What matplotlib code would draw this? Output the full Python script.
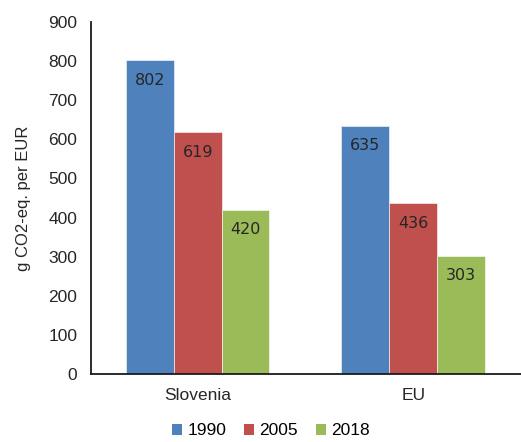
import numpy as np
import matplotlib.pyplot as plt
from matplotlib.patches import Patch

categories = ['Slovenia', 'EU']
years = ['1990', '2005', '2018']
values_1990 = [802, 635]
values_2005 = [619, 436]
values_2018 = [420, 303]
yticks = [0, 100, 200, 300, 400, 500, 600, 700, 800, 900]

colors = ['#4F81BD', '#C0504D', '#9BBB59']
series = [values_1990, values_2005, values_2018]

plt.rcParams['font.family'] = ['Liberation Sans', 'DejaVu Sans']

fig = plt.figure(figsize=(5.21, 4.42), dpi=100)
ax = fig.add_axes([0.1747, 0.1538, 0.8253, 0.7964])

x = np.arange(len(categories))
w = 0.222
for i, (vals, c) in enumerate(zip(series, colors)):
    pos = x + (i - 1) * w
    ax.bar(pos, vals, width=w, color=c, edgecolor='white', linewidth=0.4)
    for p, v in zip(pos, vals):
        ax.annotate(str(v), (p, v), xytext=(0, -14.5), textcoords='offset points',
                    ha='center', va='center', fontsize=11.5, color='#262626',
                    family='DejaVu Sans')

ax.set_xlim(-0.495, 1.5)
ax.set_ylim(0, 900)
ax.set_yticks(yticks)
ax.set_xticks(x)
ax.set_xticklabels(categories, fontsize=12.5, color='#262626')
ax.tick_params(axis='y', length=0, labelsize=12.5, labelcolor='#262626', pad=10)
ax.tick_params(axis='x', length=0, pad=10)
ax.set_ylabel('g CO2-eq. per EUR', fontsize=12, color='#262626', labelpad=12)

for s in ['top', 'right']:
    ax.spines[s].set_visible(False)
for s in ['left', 'bottom']:
    ax.spines[s].set_linewidth(1.3)
    ax.spines[s].set_color('#1a1a1a')

handles = [Patch(facecolor=c, label=y) for c, y in zip(colors, years)]
fig.legend(handles=handles, loc='center', bbox_to_anchor=(0.52, 0.025), ncol=3,
           frameon=False, fontsize=12.5, handlelength=0.6, handleheight=0.6,
           handletextpad=0.3, columnspacing=1.0)

fig.savefig('out.png', dpi=100)
